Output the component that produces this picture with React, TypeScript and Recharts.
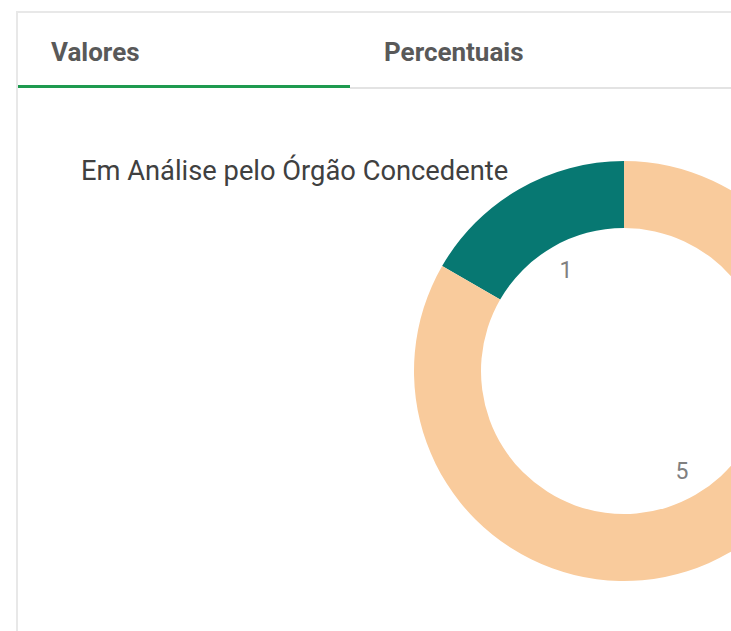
import React from 'react';
import { PieChart, Pie, Cell } from 'recharts';

const tabLabels = ['Valores', 'Percentuais'];
const chartTitle = 'Em Análise pelo Órgão Concedente';
const sliceNames = ['Em Análise', 'Outros'];
const sliceValues = [1, 5];
const sliceColors = ['#077872', '#f9cb9c'];

const data = sliceNames.map((name, i) => ({ name, value: sliceValues[i] }));

const RADIAN = Math.PI / 180;

const renderLabel = (props: any) => {
  const { cx, cy, midAngle, innerRadius, value } = props;
  const r = innerRadius - 27;
  const x = cx + r * Math.cos(-midAngle * RADIAN);
  const y = cy + r * Math.sin(-midAngle * RADIAN);
  return (
    <text
      x={x}
      y={y}
      fill="#808080"
      fontSize={23}
      fontFamily="Roboto, sans-serif"
      textAnchor="middle"
      dominantBaseline="central"
    >
      {value}
    </text>
  );
};

export default function App() {
  return (
    <div
      style={{
        position: 'absolute',
        left: 0,
        top: 0,
        width: 731,
        height: 631,
        overflow: 'hidden',
        background: '#ffffff',
        fontFamily: 'Roboto, sans-serif',
      }}
    >
      <div style={{ position: 'absolute', left: 16, top: 11, width: 715, height: 2, background: '#e8e8e8' }} />
      <div style={{ position: 'absolute', left: 16, top: 11, width: 2, height: 620, background: '#e8e8e8' }} />
      <div style={{ position: 'absolute', left: 350, top: 87, width: 381, height: 2, background: '#e3e3e3' }} />
      <div style={{ position: 'absolute', left: 18, top: 85, width: 332, height: 3, background: '#1e9a4f' }} />
      <div
        style={{
          position: 'absolute',
          left: 51,
          top: 39,
          fontSize: 26,
          lineHeight: '26px',
          fontWeight: 700,
          color: '#595959',
          whiteSpace: 'nowrap',
        }}
      >
        {tabLabels[0]}
      </div>
      <div
        style={{
          position: 'absolute',
          left: 384,
          top: 39,
          fontSize: 26,
          lineHeight: '26px',
          fontWeight: 700,
          color: '#595959',
          whiteSpace: 'nowrap',
        }}
      >
        {tabLabels[1]}
      </div>
      <div style={{ position: 'absolute', left: 0, top: 0 }}>
        <PieChart width={731} height={631} margin={{ top: 0, right: 0, bottom: 0, left: 0 }}>
          <Pie
            data={data}
            dataKey="value"
            nameKey="name"
            cx={624}
            cy={371}
            innerRadius={143}
            outerRadius={210}
            startAngle={90}
            endAngle={450}
            stroke="none"
            label={renderLabel}
            labelLine={false}
            isAnimationActive={false}
          >
            {data.map((d, i) => (
              <Cell key={d.name} fill={sliceColors[i]} />
            ))}
          </Pie>
        </PieChart>
      </div>
      <div
        style={{
          position: 'absolute',
          left: 81,
          top: 157,
          fontSize: 27.3,
          lineHeight: '28px',
          color: '#404040',
          whiteSpace: 'nowrap',
        }}
      >
        {chartTitle}
      </div>
    </div>
  );
}
